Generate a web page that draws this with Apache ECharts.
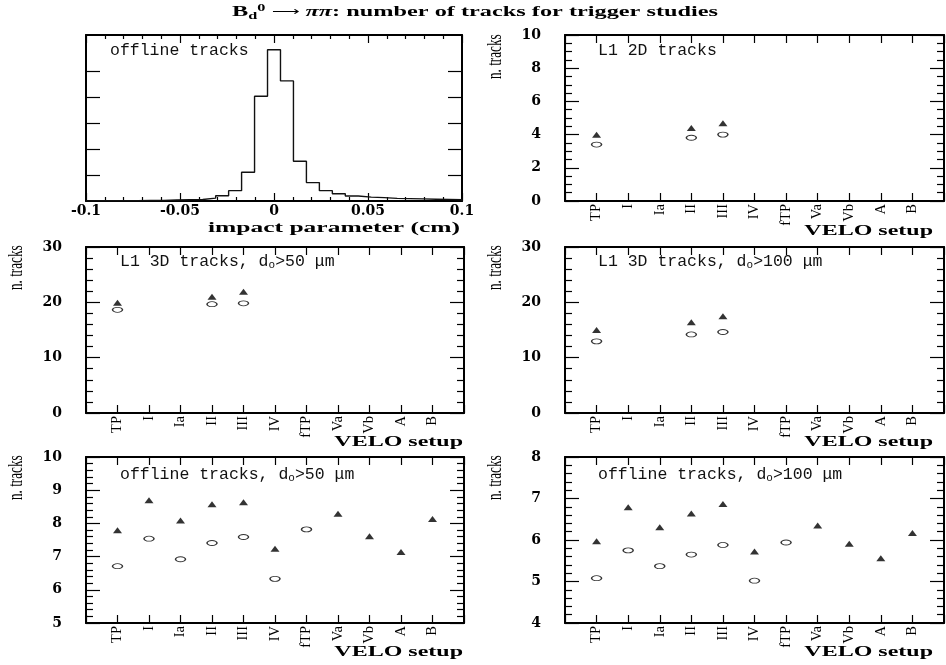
<!DOCTYPE html>
<html>
<head>
<meta charset="utf-8">
<script src="https://cdn.jsdelivr.net/npm/echarts@6/dist/echarts.min.js"></script>
<style>
  html, body { margin: 0; padding: 0; background: #fff; }
  #chart { width: 946px; height: 665px; }
</style>
</head>
<body>
<div id="chart"></div>
<script>
// VELO detector setups (x categories of the track-count panels)
const setups = ['TP', 'I', 'Ia', 'II', 'III', 'IV', 'fTP', 'Va', 'Vb', 'A', 'B'];

// Offline tracks: impact parameter distribution, 29 equal bins over ipRange (cm)
const ipRange = [-0.1, 0.1];
const ipCounts = [0.01, 0.01, 0.01, 0.01, 0.02, 0.02, 0.04, 0.05, 0.06, 0.11,
                  0.20, 0.40, 1.11, 4.04, 5.83, 4.63, 1.53, 0.71, 0.40, 0.28,
                  0.19, 0.15, 0.13, 0.10, 0.09, 0.08, 0.07, 0.06, 0.05];

// Mean number of tracks per setup: filled triangles and open circles
const l1_2d_full    = [3.99, null, null, 4.40, 4.68, null, null, null, null, null, null];
const l1_2d_open    = [3.40, null, null, 3.81, 4.00, null, null, null, null, null, null];
const l1_3d50_full  = [19.92, null, null, 21.00, 21.90, null, null, null, null, null, null];
const l1_3d50_open  = [18.65, null, null, 19.66, 19.82, null, null, null, null, null, null];
const l1_3d100_full = [15.00, null, null, 16.42, 17.47, null, null, null, null, null, null];
const l1_3d100_open = [12.95, null, null, 14.19, 14.64, null, null, null, null, null, null];
const off50_full    = [7.79, 8.70, 8.09, 8.58, 8.64, 7.24, null, 8.29, 7.61, 7.14, 8.13];
const off50_open    = [6.71, 7.54, 6.92, 7.41, 7.59, 6.33, 7.82, null, null, null, null];
const off100_full   = [5.97, 6.79, 6.31, 6.64, 6.87, 5.72, null, 6.35, 5.91, 5.56, 6.17];
const off100_open   = [5.08, 5.75, 5.37, 5.65, 5.88, 5.02, 5.94, null, null, null, null];

// ---------------------------------------------------------------------------
const BLACK = '#000';
const tickFont = 'DejaVu Serif';

const grids = [
  { left: 86,  top: 35,  width: 376, height: 166 },  // impact parameter
  { left: 565, top: 35,  width: 379, height: 166 },  // L1 2D
  { left: 86,  top: 247, width: 378, height: 166 },  // L1 3D, d0 > 50
  { left: 565, top: 247, width: 379, height: 166 },  // L1 3D, d0 > 100
  { left: 86,  top: 457, width: 378, height: 166 },  // offline, d0 > 50
  { left: 565, top: 457, width: 379, height: 166 }   // offline, d0 > 100
];

const lineStyle = { color: BLACK, width: 2 };
const tickLine = { color: BLACK, width: 1.2 };

const xAxes = [];
const yAxes = [];
const series = [];

// --- histogram panel -------------------------------------------------------
const ipStep = (ipRange[1] - ipRange[0]) / ipCounts.length;
const ipLine = [[ipRange[0], 0]];
ipCounts.forEach((c, i) => ipLine.push([ipRange[0] + i * ipStep, c]));
ipLine.push([ipRange[1], ipCounts[ipCounts.length - 1]]);
ipLine.push([ipRange[1], 0]);

['bottom', 'top'].forEach(pos => {
  xAxes.push({
    type: 'value', gridIndex: 0, position: pos,
    min: ipRange[0], max: ipRange[1], interval: 0.05,
    axisLine: { show: true, onZero: false, lineStyle },
    axisTick: { show: true, inside: true, length: 8, lineStyle: tickLine },
    minorTick: { show: true, splitNumber: 5, length: 4, lineStyle: tickLine },
    splitLine: { show: false },
    axisLabel: {
      show: pos === 'bottom', margin: 3,
      fontFamily: tickFont, fontWeight: 'bold', fontSize: 14, color: BLACK,
      formatter: v => String(parseFloat(v.toFixed(2)))
    }
  });
});
['left', 'right'].forEach(pos => {
  yAxes.push({
    type: 'value', gridIndex: 0, position: pos,
    min: 0, max: 6.4,
    axisLine: { show: true, onZero: false, lineStyle },
    axisTick: { show: true, inside: true, length: 14, lineStyle: tickLine,
                customValues: [1, 2, 3, 4, 5] },
    splitLine: { show: false },
    axisLabel: { show: false }
  });
});
series.push({
  type: 'line', xAxisIndex: 0, yAxisIndex: 0,
  data: ipLine, step: 'end', showSymbol: false, symbol: 'none',
  lineStyle: { color: '#111', width: 1.4 }, silent: true
});

// --- track-count panels ----------------------------------------------------
const panels = [
  { grid: 1, min: 0, max: 10, interval: 2,  minor: 4, full: l1_2d_full,    open: l1_2d_open },
  { grid: 2, min: 0, max: 30, interval: 10, minor: 5, full: l1_3d50_full,  open: l1_3d50_open },
  { grid: 3, min: 0, max: 30, interval: 10, minor: 5, full: l1_3d100_full, open: l1_3d100_open },
  { grid: 4, min: 5, max: 10, interval: 1,  minor: 5, full: off50_full,    open: off50_open },
  { grid: 5, min: 4, max: 8,  interval: 1,  minor: 5, full: off100_full,   open: off100_open }
];

const toPoints = arr => arr.map((v, i) => (v == null ? null : [i + 1, v])).filter(p => p);

panels.forEach(p => {
  const xIdx = xAxes.length;
  const yIdx = yAxes.length;
  ['bottom', 'top'].forEach(pos => {
    xAxes.push({
      type: 'value', gridIndex: p.grid, position: pos,
      min: 0, max: setups.length + 1, interval: 1,
      axisLine: { show: true, onZero: false, lineStyle },
      axisTick: { show: true, inside: true, length: 8, lineStyle: tickLine },
      splitLine: { show: false },
      axisLabel: {
        show: pos === 'bottom', rotate: 90, margin: 3,
        fontFamily: 'Liberation Serif', fontSize: 14.5, color: BLACK,
        formatter: v => setups[v - 1] || ''
      }
    });
  });
  ['left', 'right'].forEach(pos => {
    yAxes.push({
      type: 'value', gridIndex: p.grid, position: pos,
      min: p.min, max: p.max, interval: p.interval,
      axisLine: { show: true, onZero: false, lineStyle },
      axisTick: { show: true, inside: true, length: 14, lineStyle: tickLine },
      minorTick: { show: true, splitNumber: p.minor, length: 7, lineStyle: tickLine },
      splitLine: { show: false },
      axisLabel: {
        show: pos === 'left', margin: 24,
        fontFamily: tickFont, fontWeight: 'bold', fontSize: 14, color: BLACK
      }
    });
  });
  series.push({
    type: 'scatter', xAxisIndex: xIdx, yAxisIndex: yIdx,
    data: toPoints(p.full), symbol: 'triangle', symbolSize: [9, 6],
    itemStyle: { color: BLACK }, silent: true
  });
  series.push({
    type: 'scatter', xAxisIndex: xIdx, yAxisIndex: yIdx,
    data: toPoints(p.open), symbol: 'circle', symbolSize: [10, 5],
    itemStyle: { color: '#fff', borderColor: BLACK, borderWidth: 1.1 }, silent: true
  });
});

// --- texts -----------------------------------------------------------------
const monoRich = {
  m:   { fontFamily: 'Liberation Mono', fontSize: 16.5, lineHeight: 18, color: '#111' },
  sub: { fontFamily: 'Liberation Mono', fontSize: 11, lineHeight: 8, verticalAlign: 'bottom', color: '#111' }
};

function axisName(text, x, y, sx) {
  return {
    type: 'text', x, y, scaleX: sx,
    style: { text, fontFamily: 'Liberation Serif', fontWeight: 'bold', fontSize: 15, fill: BLACK,
             align: 'right', textAlign: 'right', verticalAlign: 'top', textVerticalAlign: 'top' }
  };
}
function yName(x, y) {
  return {
    type: 'text', x, y, rotation: Math.PI / 2, scaleX: 0.66,
    style: { text: 'n. tracks', fontFamily: 'Liberation Serif', fontSize: 20, fill: BLACK,
             align: 'left', textAlign: 'left', verticalAlign: 'bottom', textVerticalAlign: 'bottom' }
  };
}
function panelLabel(text, x, y) {
  return {
    type: 'text', x, y,
    style: { text, rich: monoRich, fontFamily: 'Liberation Mono', fontSize: 16.5, fill: '#111',
             align: 'left', textAlign: 'left', verticalAlign: 'top', textVerticalAlign: 'top' }
  };
}

const graphics = [
  {
    type: 'text', x: 475, y: 3, scaleX: 1.62,
    style: {
      text: '{b|B}{sub|d}{sup|0}{ar| ⟶ }{pi|ππ}{b|: number of tracks for trigger studies}',
      align: 'center', textAlign: 'center', verticalAlign: 'top', textVerticalAlign: 'top',
      rich: {
        b:   { fontFamily: 'Liberation Serif', fontWeight: 'bold', fontSize: 15, lineHeight: 18, color: BLACK },
        sub: { fontFamily: 'Liberation Serif', fontWeight: 'bold', fontSize: 10, lineHeight: 6, verticalAlign: 'bottom', color: BLACK },
        sup: { fontFamily: 'Liberation Serif', fontWeight: 'bold', fontSize: 10, lineHeight: 8, verticalAlign: 'top', color: BLACK },
        ar:  { fontFamily: 'DejaVu Sans', fontSize: 12, lineHeight: 18, color: BLACK },
        pi:  { fontFamily: 'Liberation Serif', fontStyle: 'italic', fontWeight: 'bold', fontSize: 15, lineHeight: 18, color: BLACK }
      }
    }
  },
  panelLabel('{m|offline tracks}', 110, 42),
  panelLabel('{m|L1 2D tracks}', 598, 42),
  panelLabel('{m|L1 3D tracks, d}{sub|o}{m|>50 μm}', 120, 253),
  panelLabel('{m|L1 3D tracks, d}{sub|o}{m|>100 μm}', 598, 253),
  panelLabel('{m|offline tracks, d}{sub|o}{m|>50 μm}', 120, 466),
  panelLabel('{m|offline tracks, d}{sub|o}{m|>100 μm}', 598, 466),
  axisName('impact parameter (cm)', 460, 221, 1.7),
  axisName('VELO setup', 933, 224, 1.6),
  axisName('VELO setup', 463, 435, 1.6),
  axisName('VELO setup', 933, 435, 1.6),
  axisName('VELO setup', 463, 645, 1.6),
  axisName('VELO setup', 933, 645, 1.6),
  yName(506, 79),
  yName(27, 290),
  yName(506, 290),
  yName(27, 500),
  yName(506, 500)
];

const chart = echarts.init(document.getElementById('chart'), null, { renderer: 'canvas' });
chart.setOption({
  animation: false,
  backgroundColor: '#fff',
  grid: grids,
  xAxis: xAxes,
  yAxis: yAxes,
  series,
  graphic: graphics
});
</script>
</body>
</html>
